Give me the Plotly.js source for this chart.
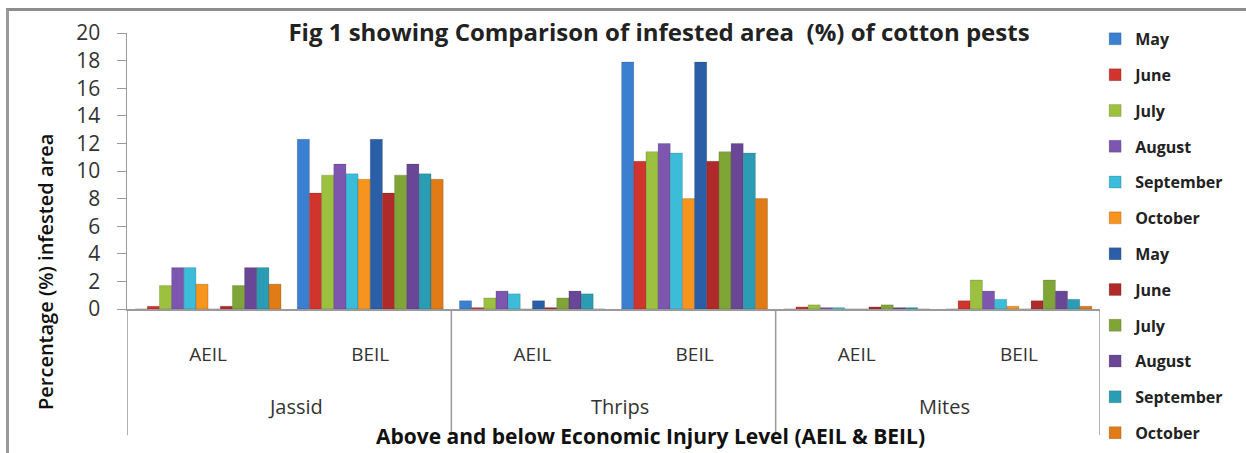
<!DOCTYPE html>
<html>
<head>
<meta charset="utf-8">
<script src="https://cdn.plot.ly/plotly-3.0.1.min.js"></script>
<style>
  html, body { margin: 0; padding: 0; background: #fff; overflow: hidden; }
  #frame { position: absolute; left: 6px; top: 8px; width: 1300px; height: 500px; border-top: 3px solid #8c8c8c; border-left: 3px solid #9a9a9a; box-sizing: border-box; }
  #chart { position: absolute; left: 0; top: 0; width: 1246px; height: 453px; }
</style>
</head>
<body>
<div id="frame"></div>
<div id="chart"></div>
<script>
// Categories (two levels)
const pests  = ["Jassid", "Jassid", "Thrips", "Thrips", "Mites", "Mites"];
const levels = ["AEIL", "BEIL", "AEIL", "BEIL", "AEIL", "BEIL"];

// Series values (percentage infested area) per month
const may       = [0.0, 12.3, 0.6, 17.9, 0.0, 0.0];
const june      = [0.2,  8.4, 0.1, 10.7, 0.15, 0.6];
const july      = [1.7,  9.7, 0.8, 11.4, 0.3, 2.1];
const august    = [3.0, 10.5, 1.3, 12.0, 0.1, 1.3];
const september = [3.0,  9.8, 1.1, 11.3, 0.1, 0.7];
const october   = [1.8,  9.4, 0.0,  8.0, 0.0, 0.2];

const monthNames  = ["May", "June", "July", "August", "September", "October"];
const monthValues = [may, june, july, august, september, october];

const chartTitle = "Fig 1 showing Comparison of infested area  (%) of cotton pests";
const xTitle = "Above and below Economic Injury Level (AEIL & BEIL)";
const yTitle = "Percentage (%) infested area";

const colorsA = ["#3a7fd0", "#d0342c", "#9bc13f", "#7d56b0", "#3bbdd9", "#f7941e"];
const colorsB = ["#2a5fa8", "#b02a2a", "#7fa536", "#6a4796", "#2a9db5", "#e07b16"];

// category positions on the axis (one slot per pest/level pair)
const pos = levels.map((_, i) => i);

const traces = [];
[colorsA, colorsB].forEach((cols, setIdx) => {
  monthNames.forEach((m, i) => {
    traces.push({
      type: "bar",
      name: m,
      x: pos,
      y: monthValues[i],
      legendgroup: "g" + setIdx + "_" + i,
      marker: { color: cols[i], line: { color: "rgba(0,0,0,0.25)", width: 0.6 } },
      hovertemplate: m + ": %{y}<extra></extra>"
    });
  });
});

// group labels and dividers derived from the pest array
const groups = [];
pests.forEach((p, i) => {
  const g = groups.find(gg => gg.name === p);
  if (g) g.last = i; else groups.push({ name: p, first: i, last: i });
});

const bottomY = -0.457;
const annotations = groups.map(g => ({
  x: (g.first + g.last) / 2 + 0.04, xref: "x",
  y: -0.355, yref: "paper",
  text: g.name, showarrow: false,
  font: { size: 20, color: "#333" },
  xanchor: "center", yanchor: "middle"
}));

// axis titles (placed where the reference draws them)
annotations.push({
  x: 650, xref: "paper", y: 436, yref: "paper", text: "<b>" + xTitle + "</b>",
  showarrow: false, font: { size: 21, color: "#111" }, xanchor: "center", yanchor: "middle"
});
annotations.push({
  x: 45, xref: "paper", y: 272, yref: "paper", text: yTitle, textangle: -90,
  showarrow: false, font: { size: 20, color: "#111", weight: 600 }, xanchor: "center", yanchor: "middle"
});

const boundaries = [groups[0].first - 0.5].concat(groups.map(g => g.last + 0.5));
const shapes = boundaries.map(b => ({
  type: "line", xref: "x", yref: "paper",
  x0: b, x1: b, y0: 0, y1: bottomY,
  line: { color: "#9a9a9a", width: 1.5 }
}));

const M = { l: 127, r: 146, t: 33, b: 144 };
const W = 1246, H = 453;
const plotW = W - M.l - M.r, plotH = H - M.t - M.b;
// convert the two title annotations from pixel placement to paper fractions
annotations.slice(-2).forEach(a => {
  a.x = (a.x - M.l) / plotW;
  a.y = (H - M.b - a.y) / plotH;
});

const layout = {
  width: W,
  height: H,
  paper_bgcolor: "rgba(0,0,0,0)",
  plot_bgcolor: "rgba(0,0,0,0)",
  margin: M,
  barmode: "group",
  bargap: 0.1,
  bargroupgap: 0,
  font: { family: "'Open Sans', sans-serif", color: "#2b2b2b" },
  title: {
    text: "<b>" + chartTitle + "</b>",
    font: { size: 24, color: "#222" },
    x: 659 / W, xanchor: "center", xref: "container",
    y: 1 - 33 / H, yanchor: "middle", yref: "container"
  },
  xaxis: {
    range: [-0.5, 5.5],
    tickmode: "array", tickvals: pos, ticktext: levels,
    showline: true, linecolor: "#9a9a9a", linewidth: 1.5,
    ticks: "outside", ticklen: 28, tickcolor: "rgba(0,0,0,0)",
    showgrid: false, zeroline: false,
    tickfont: { size: 19, color: "#333" }
  },
  yaxis: {
    range: [0, 20], dtick: 2, tick0: 0,
    showline: true, linecolor: "#9a9a9a", linewidth: 1.5,
    ticks: "outside", ticklen: 9, tickcolor: "#9a9a9a",
    ticklabelstandoff: 12,
    showgrid: false, zeroline: false,
    tickfont: { size: 21, color: "#333" }
  },
  legend: {
    x: 0.995, xanchor: "left", y: 1.04, yanchor: "top",
    font: { size: 16, color: "#222", weight: "bold" },
    tracegroupgap: 12,
    itemwidth: 30,
    maxheight: 453,
    bgcolor: "rgba(0,0,0,0)"
  },
  annotations: annotations,
  shapes: shapes,
  showlegend: true
};

Plotly.newPlot("chart", traces, layout, { displayModeBar: false, staticPlot: true });
</script>
</body>
</html>
